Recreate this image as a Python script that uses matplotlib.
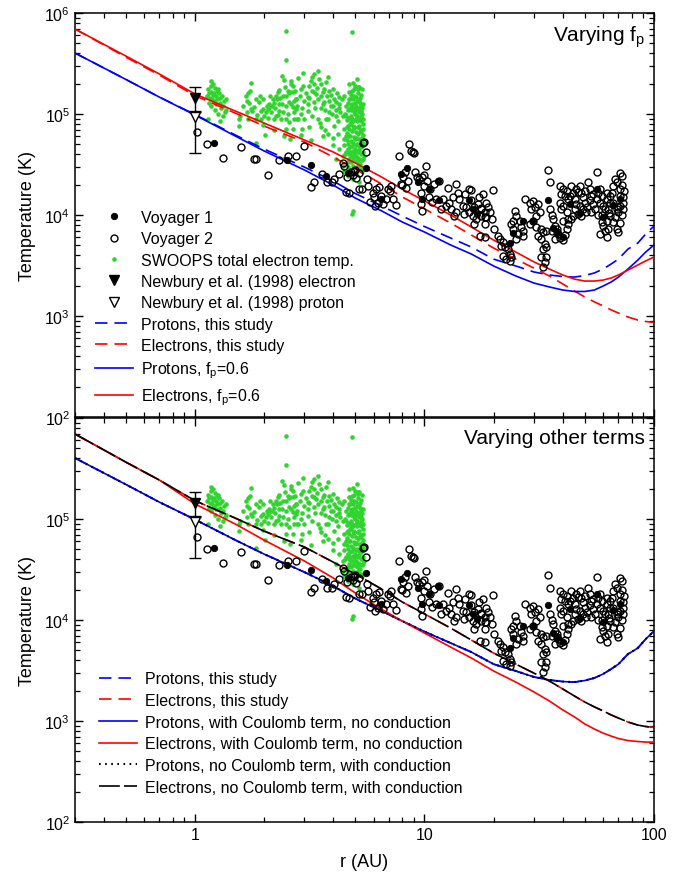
import matplotlib
matplotlib.use('Agg')
import matplotlib.pyplot as plt
from matplotlib.ticker import LogLocator, FuncFormatter, NullFormatter
import numpy as np

plt.rcParams['font.family'] = ['Liberation Sans', 'DejaVu Sans']
plt.rcParams['mathtext.fontset'] = 'custom'
plt.rcParams['mathtext.rm'] = 'Liberation Sans'
plt.rcParams['mathtext.it'] = 'Liberation Sans:italic'
plt.rcParams['lines.scale_dashes'] = False

# ---- model curves (r in AU, T in K) ----
r_model = [0.3, 0.5, 0.7, 1, 1.5, 2, 3, 4, 5, 6.5, 8, 10, 13, 16, 20, 25, 30,
           35, 40, 45, 50, 55, 60, 65, 70, 77, 85, 92, 100]

T_p_study = [4.02e5, 2.20e5, 1.47e5, 9.89e4, 6.19e4, 4.50e4, 2.98e4, 2.17e4, 1.63e4,
             1.23e4, 9.77e3, 7.69e3, 5.92e3, 4.82e3, 3.66e3, 3.13e3, 2.73e3, 2.55e3,
             2.46e3, 2.43e3, 2.52e3, 2.67e3, 2.92e3, 3.27e3, 3.66e3, 4.60e3, 5.28e3,
             6.48e3, 7.78e3]
T_e_study = [6.95e5, 3.66e5, 2.43e5, 1.52e5, 1.02e5, 7.60e4, 5.28e4, 3.75e4, 2.85e4,
             2.03e4, 1.51e4, 1.15e4, 8.33e3, 6.34e3, 4.71e3, 3.66e3, 2.98e3, 2.49e3,
             2.08e3, 1.77e3, 1.54e3, 1.38e3, 1.26e3, 1.15e3, 1.07e3, 978, 912, 883, 863]
T_p_fp06 = [4.02e5, 2.20e5, 1.47e5, 9.78e4, 6.05e4, 4.31e4, 2.79e4, 1.98e4, 1.47e4,
            1.10e4, 8.53e3, 6.79e3, 5.05e3, 4.11e3, 3.13e3, 2.49e3, 2.12e3, 1.94e3,
            1.81e3, 1.75e3, 1.75e3, 1.81e3, 1.98e3, 2.17e3, 2.43e3, 2.92e3, 3.58e3,
            4.30e3, 5.05e3]
T_e_fp06 = [6.95e5, 3.75e5, 2.49e5, 1.58e5, 1.07e5, 8.15e4, 5.53e4, 4.21e4, 3.27e4,
            2.38e4, 1.81e4, 1.38e4, 1.00e4, 7.61e3, 5.65e3, 4.30e3, 3.43e3, 2.92e3,
            2.55e3, 2.32e3, 2.22e3, 2.22e3, 2.27e3, 2.38e3, 2.55e3, 2.85e3, 3.20e3,
            3.51e3, 3.84e3]
T_e_coulomb = [6.95e5, 3.66e5, 2.43e5, 1.41e5, 8.92e4, 6.19e4, 3.84e4, 2.61e4, 1.85e4,
               1.28e4, 9.77e3, 7.43e3, 5.40e3, 4.21e3, 3.13e3, 2.43e3, 1.94e3, 1.58e3,
               1.29e3, 1.10e3, 934, 833, 760, 710, 671, 641, 627, 619, 619]
# these overlap the "this study" runs
T_p_coulomb = T_p_study
T_p_cond = T_p_study
T_e_cond = T_e_study

# ---- Newbury et al. (1998) at 1 AU ----
nb_r = 1.0
nb_Te, nb_Te_lo, nb_Te_hi = 1.43e5, 1.08e5, 1.84e5
nb_Tp, nb_Tp_lo, nb_Tp_hi = 9.3e4, 4.1e4, 1.04e5

# ---- Voyager 1 (filled) ----
v1_r = [1.21, 2.52, 3.2, 3.74, 4.63, 5.56, 6.47, 7.9, 8.37, 9.33, 9.77, 10.5, 11.4,
        11.6, 15.7, 16.3, 17.0, 23.5, 24.3, 26.9, 29.7, 34.6, 36.3, 37.6, 40.2, 43.0,
        47.5, 56.2, 60.1, 66.4, 71.1]
v1_T = [52, 35, 31, 24.5, 26.1, 29, 14.4, 25.5, 29, 21, 14.4, 18.3, 21.5,
        14, 14, 11.5, 10.2, 5.3, 6.7, 8.8, 8.8, 14.2, 7.5, 6.7, 6.1, 13.0,
        10.5, 18.1, 9.5, 12.5, 14.5]

# ---- Voyager 2 (open) ----
v2_r = [1.02, 1.125, 1.33, 1.58, 1.81, 1.84, 2.08, 2.33, 2.55, 2.75, 2.99, 3.2, 3.59,
        3.75, 3.96, 4.05, 4.25, 4.4, 4.47, 4.55, 4.7, 4.78, 4.9, 4.95, 5.0, 5.05, 5.2,
        5.2, 5.35, 5.37, 5.47, 5.56, 5.6, 3.3, 4.6,
        5.65, 5.94, 6.04, 6.15, 6.25, 6.36, 6.47, 6.58, 6.81, 6.92, 7.04, 7.16, 7.28,
        7.52, 5.8, 6.1, 7.78, 8.6, 8.9, 9.04, 8.75, 10.2, 8.04, 8.45, 9.8, 10.3, 9.98,
        9.66, 10.5, 9.66, 9.75, 8.0, 8.2, 9.1, 9.3, 9.5, 10.0, 11.6, 11.8, 11.0, 10.8,
        7.9, 8.3, 10.6, 11.2,
        13.7, 15.7, 15.9, 18.0, 12.4, 12.8, 13.3, 14.2, 13.1, 13.7, 13.5, 14.7, 15.2,
        14.9, 15.7, 16.5, 17.1, 17.7, 16.2, 16.8, 17.7, 18.6, 18.3, 16.5, 17.4, 18.3,
        12.1, 14.0, 16.0, 17.2, 12.6, 15.0,
        19.9, 18.6, 18.9, 19.2, 18.3, 19.6, 18.3, 17.7, 20.0, 20.9, 21.3, 22.0, 21.6,
        22.4, 23.1, 23.5, 22.0, 22.7, 23.9, 23.5, 24.3, 24.7, 25.1, 23.9, 24.3, 26.0,
        26.4, 25.6, 26.9, 25.1, 26.9, 27.4, 28.8, 29.7, 29.2, 30.2, 31.3, 31.8, 30.7,
        29.7, 28.8, 30.7, 32.3, 31.3, 32.9, 34.0, 32.3, 33.4, 32.9, 34.0, 32.3, 34.0,
        33.4, 32.9, 34.6, 35.4,
        35.1, 35.8, 36.3, 36.9, 37.6, 35.8, 38.2, 38.9, 40.2, 40.9, 36.9, 37.6,
        38.9, 40.2, 39.5, 40.9, 41.6, 42.3, 38.9, 40.2, 39.5, 41.6, 42.3, 40.2, 42.3,
        41.6, 43.0, 43.7, 44.4, 45.1, 45.9, 45.1, 46.7, 44.4, 43.7, 45.9, 47.5, 48.3,
        49.1, 50.0, 47.5, 49.1, 50.8, 48.3, 49.9, 51.7, 52.6, 53.4, 52.6, 54.3, 55.2,
        53.4, 56.2, 57.1, 58.1, 59.1, 58.1, 60.1, 61.1, 59.1, 57.1, 59.1, 60.1, 61.1,
        58.1, 62.1, 63.2, 62.1, 64.3, 63.2, 64.3, 62.1, 64.3, 65.3, 66.4, 67.5, 68.7,
        71.1, 71.1, 72.3, 71.1, 73.5, 71.1, 68.7, 69.9, 67.5, 66.4, 68.7, 69.9, 71.1,
        72.3, 73.5, 56.2, 66.4, 62.1, 72.3, 74.0, 73.5, 54.0, 51.0, 46.5, 63.5, 69.5]
v2_T = [66, 50.5, 36.6, 47, 36, 36, 24.9, 35, 38, 38, 48.5, 19, 25.5,
        21, 21, 23, 25.5, 33, 30.8, 16.8, 16.6, 26.7, 25, 27.5, 28, 23.5, 18,
        26, 18.1, 52, 53, 42, 23, 21, 24,
        19.4, 16.7, 15.0, 18.1, 13.3, 18.8, 15.5, 12.9, 14.4, 18.1, 17.4, 19.5, 14.4,
        12.6, 13.5, 12.2, 38.6, 50.5, 41.7, 40.7, 43, 30.3, 23.6, 21.9, 23.6, 21.9, 19.5,
        16.7, 15.0, 12.9, 11.0, 20.0, 26.4, 26.4, 24, 22.5, 25, 21.5, 11.5, 20.5, 13.5,
        20.3, 18.5, 18.0, 14.5,
        20.3, 18.1, 17.7, 16.1, 12.4, 13.3, 15.0, 14.4, 11.5, 10.6, 9.8, 12.4, 11.9,
        10.2, 10.6, 11.9, 12.9, 11.5, 9.8, 9.1, 9.8, 9.5, 10.6, 8.1, 6.2, 6.0,
        14.5, 16.5, 14.0, 15.0, 18.5, 16.0,
        17.8, 13.3, 11.9, 10.6, 9.47, 9.12, 8.13, 11.7, 7.26, 6.24, 5.78, 5.36, 4.97,
        4.78, 4.60, 4.11, 3.95, 3.66, 3.80, 3.52, 8.77, 11.0, 9.84, 8.13, 7.26, 8.77,
        7.54, 6.47, 6.24, 5.78, 6.98, 14.4, 13.3, 13.8, 11.5, 11.9, 12.8, 10.6, 9.84,
        8.77, 8.13, 7.54, 7.26, 6.24, 6.73, 6.98, 5.78, 5.15, 4.60, 4.78, 3.80, 3.80,
        3.40, 3.03, 28.1, 21.0,
        11.5, 10.0, 9.1, 7.8, 7.3, 7.0, 6.5, 5.9, 5.6, 6.3, 5.8, 6.8,
        19.5, 18.1, 16.1, 15.5, 17.4, 14.4, 13.3, 12.4, 11.5, 10.6, 9.1, 8.8, 8.1,
        7.3, 15.5, 19.5, 16.7, 14.4, 12.9, 11.5, 10.2, 9.8, 9.1, 18.1, 19.5, 16.7,
        15.0, 13.3, 12.4, 11.5, 10.6, 9.8, 17.4, 21.0, 18.1, 15.5, 14.0, 12.9, 11.5,
        10.6, 14.4, 16.7, 18.1, 15.5, 13.3, 12.4, 11.5, 10.0, 10.0, 8.5, 7.8, 7.0,
        6.5, 6.0, 7.3, 8.8, 9.8, 11.5, 13.3, 14.4, 15.5, 16.7, 19.5, 22.5, 21.0,
        18.1, 26.0, 24.5, 15.5, 13.3, 12.4, 11.5, 10.6, 9.5, 8.5, 7.3, 6.8, 8.3,
        10.0, 11.5, 26.4, 13.3, 16.7, 20.0, 17.4, 15.0, 16.0, 12.0, 17.0, 10.5, 12.0]

# ---- Ulysses SWOOPS total electron temperature ----
sw_r = [1.13, 1.14, 1.15, 1.15, 1.16, 1.17, 1.18, 1.18, 1.19, 1.2, 1.2, 1.21, 1.22, 1.22,
        1.23, 1.24, 1.25, 1.25, 1.26, 1.27, 1.28, 1.28, 1.29, 1.3, 1.31, 1.32, 1.33,
        1.34, 1.35, 1.36, 1.37, 1.14, 1.17, 1.21, 1.26,
        1.75, 1.74, 1.66, 1.69, 1.84, 1.90, 1.78, 1.75, 1.57, 1.56, 1.55, 1.71, 1.84,
        1.94, 2.02, 1.84, 1.97, 2.05, 2.10, 2.07, 2.18, 2.25, 2.29, 2.33, 2.41, 2.53,
        2.66, 2.75, 2.44, 2.33, 2.33, 2.25, 2.37, 2.49, 2.57, 2.49, 2.45, 2.66, 2.70,
        2.14, 2.22, 2.10, 1.94, 2.00, 2.49, 2.57, 2.66, 2.75, 2.80, 2.62, 2.49, 2.50,
        2.63, 2.60, 2.75, 2.89, 2.94, 2.79, 2.69, 3.10, 3.15, 3.25, 3.30, 3.36, 3.42,
        3.30, 3.48, 3.54, 3.60, 3.72, 3.79, 3.85, 3.98, 3.66, 3.54, 3.30, 3.10, 2.99,
        3.15, 2.94, 3.42, 3.54, 3.60, 3.72, 3.85, 3.79, 3.91, 4.11, 4.25, 4.25, 4.11,
        4.04, 4.18, 3.98, 4.25, 4.11, 4.40, 4.47, 4.55, 4.62, 4.55, 4.70, 4.40,
        4.70, 5.11, 5.03, 5.20, 5.11, 5.29, 4.94, 4.78, 5.03, 5.29, 5.20, 4.86, 4.70,
        5.03, 5.29, 4.94, 5.20, 4.78, 4.62, 5.03, 5.29, 4.86, 5.11, 4.70, 4.94, 5.20,
        4.62, 4.86, 5.11, 5.29, 4.70, 5.03, 4.47, 5.20, 4.62, 4.86, 5.38, 5.38, 5.38,
        5.38, 4.47, 4.47, 4.55, 4.40, 4.78, 5.11, 5.03, 4.70, 4.78, 5.11,
        4.55, 4.65, 4.75, 4.85, 4.95, 5.05, 5.15, 5.25, 5.35, 4.60, 4.70, 4.80, 4.90,
        5.00, 5.10, 5.20, 5.30, 5.40, 4.60, 4.72, 4.83, 4.92, 5.02, 5.12, 5.22, 5.32,
        5.42, 4.65, 4.75, 4.88, 4.98, 5.08, 5.18, 5.28, 5.40, 4.68, 4.80, 4.92, 5.02,
        5.15, 5.25, 5.35, 4.85, 5.00, 5.20, 5.30, 4.90, 5.10, 5.35, 4.80,
        4.85, 4.85, 4.88,
        1.62, 1.68, 1.72, 1.80, 1.86, 1.92, 1.98, 2.03, 2.08, 2.12, 2.16, 2.20, 2.24,
        2.28, 2.31, 2.35, 2.39, 2.42, 2.46, 2.50, 2.54, 2.58, 2.62, 2.66, 2.70, 2.74,
        2.78, 2.82, 2.86, 2.90, 2.95, 3.00, 3.05, 3.10, 3.15, 3.20, 3.25, 3.30, 3.35,
        3.40, 3.45, 3.50, 3.55, 3.60, 3.65, 3.70, 3.75, 3.80, 3.85, 3.90, 3.95, 4.00,
        4.05, 4.10, 4.15, 4.20, 4.25, 4.30, 4.35, 1.98, 2.20, 2.60, 2.90, 3.20, 3.70,
        4.00, 1.70, 2.40, 2.95, 3.25,
        4.45, 4.52, 4.58, 4.64, 4.68, 4.72, 4.76, 4.82, 4.86, 4.90, 4.95, 4.98, 5.02,
        5.06, 5.10, 5.14, 5.18, 5.22, 5.26, 5.30, 5.34, 5.38, 5.42, 4.50, 4.58, 4.66,
        4.74, 4.82, 4.90, 4.96, 5.04, 5.12, 5.20, 5.28, 5.36, 5.44, 4.70, 5.15, 4.95,
        5.30]
sw_T = [150, 175, 130, 160, 145, 190, 120, 165, 140, 155, 200, 135, 180, 110,
        150, 125, 170, 140, 100, 160, 130, 85, 145, 115, 150, 95, 120,
        135, 105, 140, 110, 90, 210, 160, 175,
        201, 168, 150, 135, 141, 131, 108, 112, 96, 89, 76, 90, 89,
        89, 62, 52, 113, 119, 126, 111, 141, 150, 164, 174, 152, 170,
        164, 141, 217, 126, 108, 96, 89, 89, 83, 71, 61, 71, 89,
        104, 89, 117, 108, 96, 121, 131, 117, 112, 89, 214, 660, 345,
        198, 164, 141, 177, 116, 89, 104, 146, 190, 170, 198, 158, 268,
        249, 222, 198, 164, 206, 231, 170, 177, 131, 116, 131, 108, 89,
        74, 71, 89, 74, 61, 89, 104, 63, 121, 131, 146, 116, 96,
        77, 63, 49, 45, 35.8, 38.6, 49, 61, 77, 96, 112, 96,
        198, 177, 146, 136, 116, 108, 104, 96, 89, 86, 77, 77, 71,
        66, 66, 59, 57, 54, 50.5, 49, 46.8, 43.4, 41.7, 40.2, 37.2, 35.8,
        33.2, 30.8, 30.8, 28.5, 26.4, 25.5, 27.5, 21.0, 24.5, 22.7, 35.8, 52, 71,
        89, 71, 57, 41.7, 30.8, 33.2, 33.2, 38.6, 61, 83, 74,
        120, 130, 140, 125, 150, 120, 160, 130, 115, 88, 92, 110, 85,
        100, 95, 105, 95, 80, 65, 80, 68, 72, 58, 63, 68, 58,
        62, 45, 47, 52, 45, 50, 44, 40, 42, 36, 38, 40, 34,
        29, 32, 27, 170, 190, 185, 155, 205, 220, 175, 155,
        650, 10.2, 11.0,
        120, 105, 128, 118, 98, 150, 140, 105, 92, 150, 120, 130, 115,
        140, 98, 145, 125, 105, 185, 150, 100, 160, 125, 190, 135, 170,
        120, 230, 150, 100, 190, 135, 160, 125, 145, 210, 95, 165, 115,
        180, 140, 82, 150, 125, 175, 110, 150, 90, 135, 155, 100, 120,
        140, 110, 160, 85, 125, 105, 140, 78, 70, 56, 62, 55, 70,
        58, 160, 240, 255, 235,
        150, 100, 75, 110, 140, 60, 120, 90, 140, 115, 75, 130, 110,
        85, 135, 75, 115, 90, 145, 70, 100, 125, 50, 40, 55, 30,
        42, 48, 35, 56, 43, 37, 48, 55, 35, 38, 165, 185, 175,
        120]

GREEN = '#2fd42f'


def draw_data(ax):
    ax.plot(sw_r, np.array(sw_T) * 1e3, ls='none', marker='o', ms=3.3, mfc=GREEN,
            mec=GREEN, mew=0, zorder=2, label='SWOOPS total electron temp.')
    ax.plot(v2_r, np.array(v2_T) * 1e3, ls='none', marker='o', ms=5.0, mfc='none',
            mec='black', mew=1.0, zorder=4, label='Voyager 2')
    ax.plot(v1_r, np.array(v1_T) * 1e3, ls='none', marker='o', ms=4.6, mfc='black',
            mec='black', mew=0.6, zorder=4, label='Voyager 1')
    ax.errorbar([nb_r], [nb_Te], yerr=[[nb_Te - nb_Te_lo], [nb_Te_hi - nb_Te]],
                fmt='none', ecolor='black', elinewidth=1.0, capsize=4.5, capthick=1.0, zorder=5)
    ax.errorbar([nb_r], [nb_Tp], yerr=[[nb_Tp - nb_Tp_lo], [nb_Tp_hi - nb_Tp]],
                fmt='none', ecolor='black', elinewidth=1.0, capsize=4.5, capthick=1.0, zorder=5)
    ax.plot([nb_r], [nb_Te], ls='none', marker='v', ms=7, mfc='black', mec='black',
            zorder=6, label='Newbury et al. (1998) electron')
    ax.plot([nb_r], [nb_Tp], ls='none', marker='v', ms=7, mfc='white', mec='black',
            mew=1.0, zorder=6, label='Newbury et al. (1998) proton')


def style_axes(ax, bottom_panel):
    ax.set_xscale('log')
    ax.set_yscale('log')
    ax.set_xlim(0.3, 100)
    ax.set_ylim(1e2, 1e6)
    ax.xaxis.set_major_locator(LogLocator(base=10, numticks=10))
    ax.xaxis.set_minor_locator(LogLocator(base=10, subs=np.arange(2, 10), numticks=20))
    ax.yaxis.set_major_locator(LogLocator(base=10, numticks=10))
    ax.yaxis.set_minor_locator(LogLocator(base=10, subs=np.arange(2, 10), numticks=20))
    ax.tick_params(which='both', direction='in', top=True, right=True, labelsize=11.5)
    ax.tick_params(which='major', length=6, width=1.0)
    ax.tick_params(which='minor', length=3.5, width=0.9)
    for s in ax.spines.values():
        s.set_linewidth(1.1)
    ax.xaxis.set_minor_formatter(NullFormatter())
    if bottom_panel:
        ax.xaxis.set_major_formatter(FuncFormatter(lambda v, p: '%g' % v))
        ax.yaxis.set_major_formatter(FuncFormatter(
            lambda v, p: '' if v > 2e5 else r'$\mathdefault{10^{%d}}$' % round(np.log10(v))))
    else:
        ax.xaxis.set_major_formatter(NullFormatter())
    ax.set_ylabel('Temperature (K)', fontsize=13, labelpad=6)


fig = plt.figure(figsize=(6.97, 8.78), dpi=100)
ax1 = fig.add_axes([0.1076, 0.5239, 0.8307, 0.4601])
ax2 = fig.add_axes([0.1076, 0.0626, 0.8307, 0.4601])

# top panel: varying f_p
draw_data(ax1)
ax1.plot(r_model, T_p_study, color='blue', lw=1.2, dashes=(9, 5), zorder=3,
         label='Protons, this study')
ax1.plot(r_model, T_e_study, color='red', lw=1.2, dashes=(9, 5), zorder=3,
         label='Electrons, this study')
ax1.plot(r_model, T_p_fp06, color='blue', lw=1.2, zorder=3,
         label=r'Protons, f$_\mathregular{p}$=0.6')
ax1.plot(r_model, T_e_fp06, color='red', lw=1.2, zorder=3,
         label=r'Electrons, f$_\mathregular{p}$=0.6')
style_axes(ax1, False)
handles, labels = ax1.get_legend_handles_labels()
order = ['Voyager 1', 'Voyager 2', 'SWOOPS total electron temp.',
         'Newbury et al. (1998) electron', 'Newbury et al. (1998) proton',
         'Protons, this study', 'Electrons, this study',
         r'Protons, f$_\mathregular{p}$=0.6', r'Electrons, f$_\mathregular{p}$=0.6']
hd = dict(zip(labels, handles))
ax1.legend([hd[k] for k in order], order, loc='lower left', bbox_to_anchor=(0.015, -0.003),
           frameon=False, fontsize=11.5, handlelength=2.4, handletextpad=0.5,
           labelspacing=0.40, numpoints=1, borderpad=0.2)
ax1.text(0.985, 0.975, r'Varying f$_\mathregular{p}$', transform=ax1.transAxes,
         ha='right', va='top', fontsize=15)

# bottom panel: varying other terms
draw_data(ax2)
b1, = ax2.plot(r_model, T_p_study, color='blue', lw=1.2, dashes=(9, 5), zorder=3,
               label='Protons, this study')
b2, = ax2.plot(r_model, T_e_study, color='red', lw=1.2, dashes=(9, 5), zorder=3,
               label='Electrons, this study')
b3, = ax2.plot(r_model, T_p_coulomb, color='blue', lw=1.2, zorder=3,
               label='Protons, with Coulomb term, no conduction')
b4, = ax2.plot(r_model, T_e_coulomb, color='red', lw=1.2, zorder=3,
               label='Electrons, with Coulomb term, no conduction')
b5, = ax2.plot(r_model, T_p_cond, color='black', lw=1.5, dashes=(1.2, 3.2), zorder=3.5,
               label='Protons, no Coulomb term, with conduction')
b6, = ax2.plot(r_model, T_e_cond, color='black', lw=1.2, dashes=(15, 3), zorder=3.5,
               label='Electrons, no Coulomb term, with conduction')
style_axes(ax2, True)
ax2.set_xlabel('r (AU)', fontsize=13, labelpad=8)
ax2.legend(handles=[b1, b2, b3, b4, b5, b6], loc='lower left',
           bbox_to_anchor=(0.022, 0.04), frameon=False, fontsize=11.5,
           handlelength=2.4, handletextpad=0.5, labelspacing=0.42, borderpad=0.2)
ax2.text(0.985, 0.975, 'Varying other terms', transform=ax2.transAxes,
         ha='right', va='top', fontsize=15)

fig.savefig('out.png', dpi=100)
